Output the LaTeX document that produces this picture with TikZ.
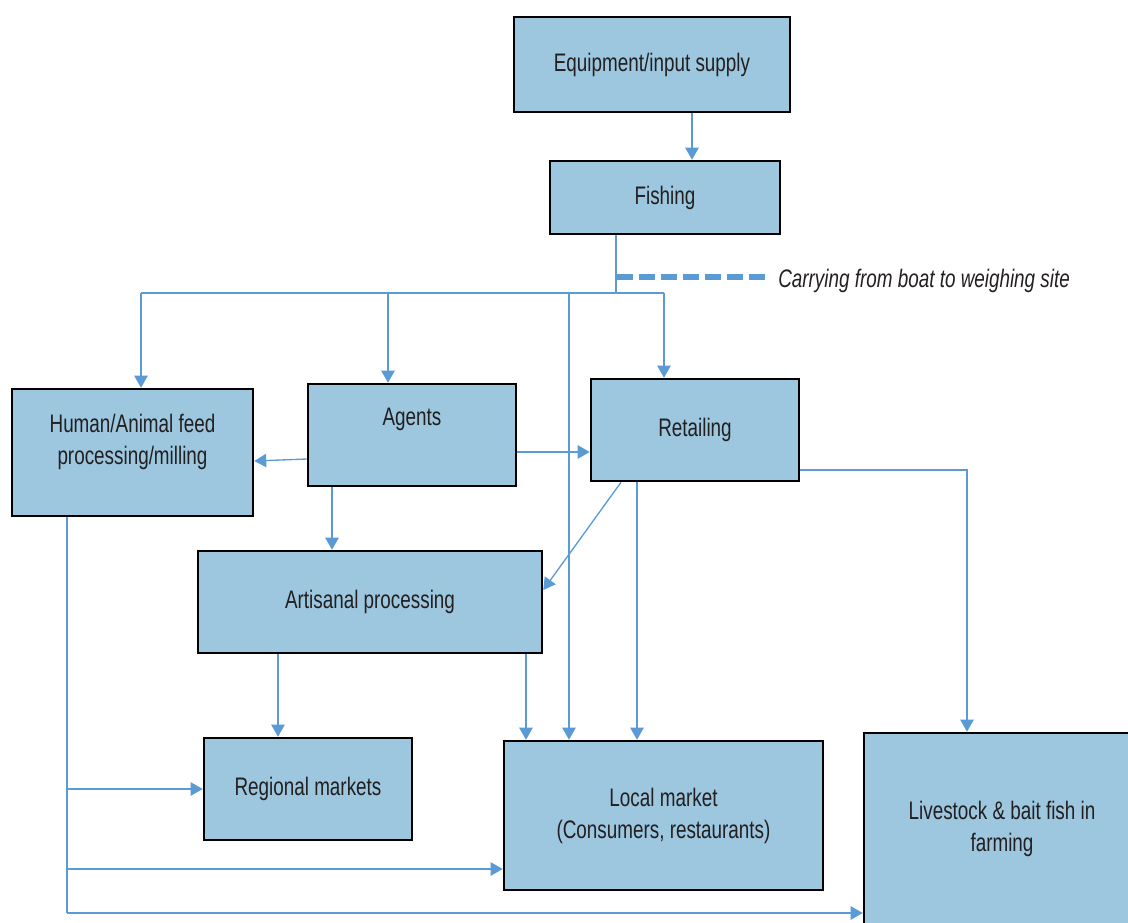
\documentclass[tikz,border=0pt]{standalone}
\usepackage{fontspec}
\setmainfont[FakeStretch=0.745]{Liberation Sans}
\usetikzlibrary{arrows.meta}
\definecolor{boxfill}{RGB}{156,199,223}
\definecolor{lineblue}{RGB}{91,155,213}
\definecolor{txtgray}{RGB}{35,31,32}
\tikzset{
  box/.style={draw=black, fill=boxfill, line width=1.9pt, inner sep=0pt},
  txt/.style={font=\fontsize{19}{24}\selectfont, text=txtgray, align=center},
  conn/.style={draw=lineblue, line width=1pt},
  arr/.style={conn, -{Triangle[length=9pt,width=10pt]}},
  dashline/.style={draw=lineblue, line width=4pt, dash pattern=on 12pt off 4.5pt}
}
\begin{document}
\begin{tikzpicture}[x=0.75pt,y=-0.75pt]
\useasboundingbox (0,0) rectangle (1128,922);
% boxes
\node[box, minimum width=207pt, minimum height=71.25pt] (equip) at (652,64.5) {};
\node[txt] at (equip.center) {Equipment/input supply};
\node[box, minimum width=172.5pt, minimum height=54.75pt] (fish) at (665,197.5) {};
\node[txt] at (fish.center) {Fishing};
\node[box, minimum width=180.75pt, minimum height=95.25pt] (hum) at (132.5,452.5) {};
\node[txt] at ([yshift=8pt]hum.center) {Human/Animal feed\\processing/milling};
\node[box, minimum width=156pt, minimum height=76.5pt] (agents) at (412,435) {};
\node[txt] at ([yshift=12pt]agents.center) {Agents};
\node[box, minimum width=156pt, minimum height=76.5pt] (retail) at (695,430) {};
\node[txt] at (retail.center) {Retailing};
\node[box, minimum width=258pt, minimum height=76.5pt] (art) at (370,602) {};
\node[txt] at (art.center) {Artisanal processing};
\node[box, minimum width=156pt, minimum height=76.5pt] (reg) at (308,789) {};
\node[txt] at (reg.center) {Regional markets};
\node[box, minimum width=239.25pt, minimum height=111.75pt] (local) at (663.5,815.5) {};
\node[txt] at (local.center) {Local market\\(Consumers, restaurants)};
\begin{scope}
\clip (0,0) rectangle (1128,922);
\node[box, minimum width=207pt, minimum height=144pt] (live) at (1002,829) {};
\end{scope}
\node[txt] at (1002,829) {Livestock \& bait fish in\\farming};
% helper coordinates
\coordinate (split) at (616,293);
\coordinate (jH) at (141,293);
\coordinate (jA) at (388,293);
\coordinate (jL) at (569,293);
\coordinate (jR) at (664,293);
\coordinate (x692) at (692,0);
\coordinate (d0) at (617,277);
\coordinate (d1) at (770,277);
\coordinate (yAH1) at (0,459);
\coordinate (yAH2) at (0,461);
\coordinate (yAR) at (0,452);
\coordinate (x332) at (332,0);
\coordinate (x621) at (621,0);
\coordinate (y590) at (0,590);
\coordinate (x637) at (637,0);
\coordinate (y470) at (0,470);
\coordinate (x967) at (967,0);
\coordinate (x278) at (278,0);
\coordinate (x526) at (526,0);
\coordinate (x67) at (67,0);
\coordinate (y869) at (0,869);
\coordinate (y913) at (0,913);
% connectors
\draw[arr] (equip.south -| x692) -- (fish.north -| x692);
\draw[conn] (fish.south -| split) -- (split);
\draw[conn] (jH) -- (jR);
\draw[arr] (jH) -- (hum.north -| jH);
\draw[arr] (jA) -- (agents.north -| jA);
\draw[arr] (jR) -- (retail.north -| jR);
\draw[arr] (jL) -- (local.north -| jL);
\draw[dashline] (d0) -- (d1);
\node[txt, font=\fontsize{19}{24}\selectfont\itshape, anchor=west, inner sep=0pt] (carry) at (778,281) {Carrying from boat to weighing site};
\draw[arr] (agents.west |- yAH1) -- (hum.east |- yAH2);
\draw[arr] (agents.east |- yAR) -- (retail.west |- yAR);
\draw[arr] (agents.south -| x332) -- (art.north -| x332);
\draw[arr] (retail.south -| x621) -- (art.east |- y590);
\draw[arr] (retail.south -| x637) -- (local.north -| x637);
\draw[arr] (retail.east |- y470) -| (live.north -| x967);
\draw[arr] (art.south -| x278) -- (reg.north -| x278);
\draw[arr] (art.south -| x526) -- (local.north -| x526);
\draw[conn] (hum.south -| x67) -- (x67 |- y913);
\draw[arr] (x67 |- reg.west) -- (reg.west);
\draw[arr] (x67 |- y869) -- (local.west |- y869);
\draw[arr] (x67 |- y913) -- (live.west |- y913);
\end{tikzpicture}
\end{document}
